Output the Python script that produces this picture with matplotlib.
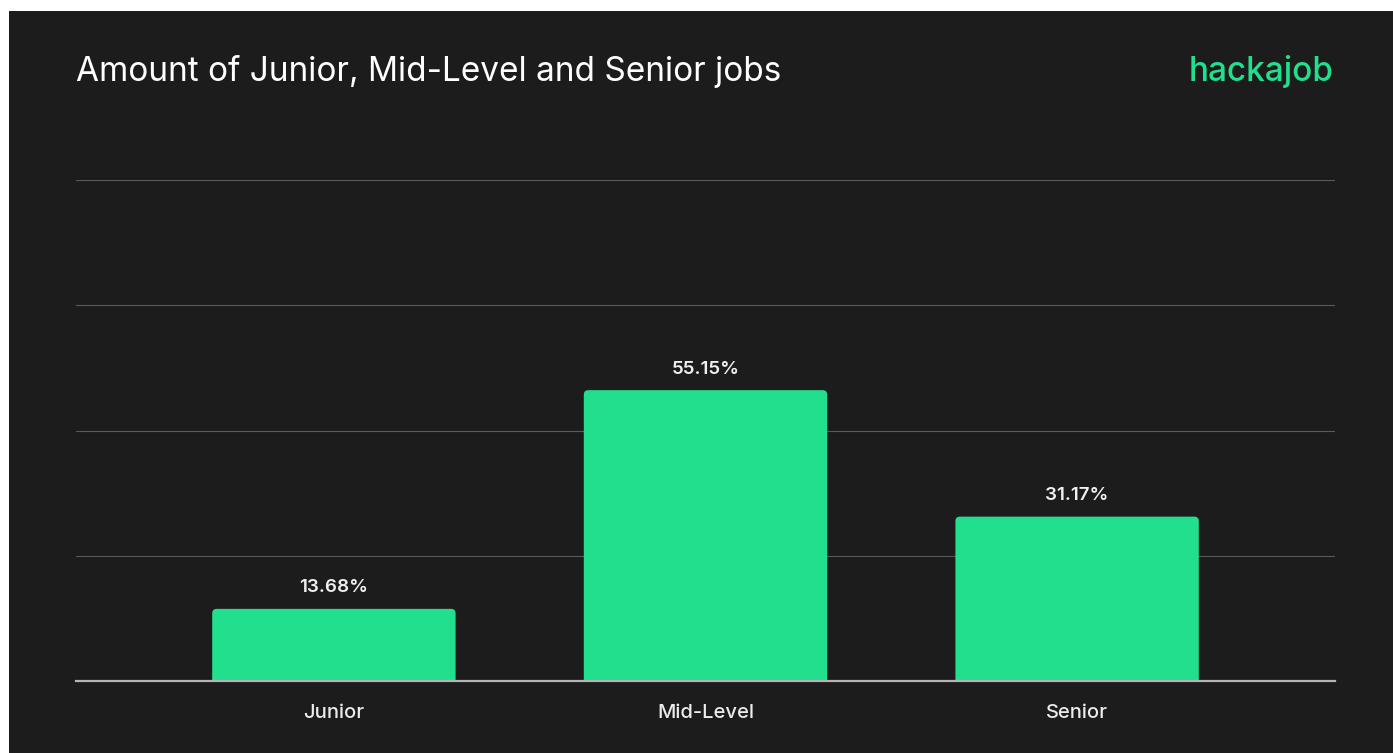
import matplotlib
matplotlib.use("Agg")
import matplotlib.pyplot as plt
from matplotlib.patches import FancyBboxPatch, Rectangle

levels = ["Junior", "Mid-Level", "Senior"]
shares = [13.68, 55.15, 31.17]
value_labels = ["13.68%", "55.15%", "31.17%"]

BG = "#1c1c1c"
GREEN = "#21df8c"
W, H = 1393, 753

plt.rcParams["font.family"] = ["Inter", "DejaVu Sans"]

fig = plt.figure(figsize=(W / 100, H / 100), dpi=100, facecolor="white")
# dark card inside a thin white margin on the top and left
fig.patches.append(Rectangle((9 / W, 0), 1 - 9 / W, 1 - 11 / H,
                             transform=fig.transFigure, facecolor=BG,
                             edgecolor="none", zorder=-10))

ax = fig.add_axes([76 / W, (H - 681) / H, (1335 - 76) / W, (681 - 180) / H])
ax.set_zorder(1)
ax.set_facecolor(BG)
ax.set_xlim(-0.694, 2.694)
ax.set_ylim(0, 95)
ax.set_yticks([23.75, 47.5, 71.25, 95])
ax.grid(axis="y", color="#5a5a5a", linewidth=0.8)
ax.set_axisbelow(True)
for s in ["top", "right", "left"]:
    ax.spines[s].set_visible(False)
ax.spines["bottom"].set_color("#b5b5b5")
ax.spines["bottom"].set_linewidth(1.6)
ax.spines["bottom"].set_zorder(5)
ax.tick_params(axis="y", left=False, labelleft=False)
ax.tick_params(axis="x", bottom=False, pad=13, labelsize=14.5, labelcolor="#ececec")

xs = list(range(len(levels)))
bars = ax.bar(xs, shares, width=0.655, color=GREEN)

# swap the plain bars for ones with rounded top corners
px_x = ax.transData.transform((1, 0))[0] - ax.transData.transform((0, 0))[0]
px_y = ax.transData.transform((0, 1))[1] - ax.transData.transform((0, 0))[1]
r = 4.5 / px_x
aspect = (4.5 / px_y) / r
for b in bars:
    b.set_visible(False)
    x0, w, h = b.get_x(), b.get_width(), b.get_height()
    ax.add_patch(FancyBboxPatch((x0, -3 * r * aspect), w, h + 3 * r * aspect,
                                boxstyle=f"round,pad=0,rounding_size={r}",
                                mutation_aspect=aspect, facecolor=GREEN,
                                edgecolor="none", zorder=3))

for x, v, lab in zip(xs, shares, value_labels):
    ax.annotate(lab, (x, v), xytext=(0, 21), textcoords="offset pixels",
                ha="center", va="center", color="#f0f0f0", fontsize=13.5,
                fontweight="semibold")

ax.set_xticks(xs)
ax.set_xticklabels(levels)
for t in ax.get_xticklabels():
    t.set_fontweight("medium")

fig.text(76 / W, 1 - 72 / H, "Amount of Junior, Mid-Level and Senior jobs",
         color="white", fontsize=24, ha="left", va="center")
fig.text(1334 / W, 1 - 72 / H, "hackajob", color=GREEN, fontsize=24,
         fontweight="medium", ha="right", va="center")

fig.savefig("out.png", dpi=100, facecolor=fig.get_facecolor())
